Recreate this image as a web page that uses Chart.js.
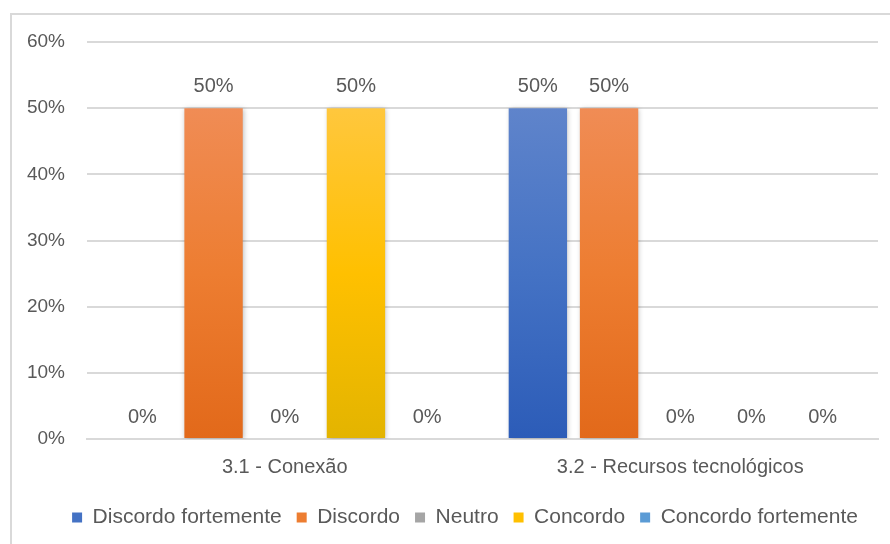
<!DOCTYPE html>
<html>
<head>
<meta charset="utf-8">
<script src="https://cdn.jsdelivr.net/npm/chart.js@4.4.1/dist/chart.umd.min.js"></script>
<style>
  body { margin: 0; background: #fff; }
  #frame { position: absolute; left: 10px; top: 13px; width: 900px; height: 560px; border: 2px solid #d9d9d9; }
  #chart { position: absolute; left: 0; top: 0; }
</style>
</head>
<body>
<div id="frame"></div>
<canvas id="chart" width="890" height="544"></canvas>
<script>
const categories = ['3.1 - Conexão', '3.2 - Recursos tecnológicos'];
const seriesNames = ['Discordo fortemente', 'Discordo', 'Neutro', 'Concordo', 'Concordo fortemente'];
const discordoFortemente = [0, 50];
const discordo = [50, 50];
const neutro = [0, 0];
const concordo = [50, 0];
const concordoFortemente = [0, 0];
const yTicks = [0, 10, 20, 30, 40, 50, 60];

// solid colour, plus light top / dark bottom for the bar gradient
const palette = [
    { base: '#4472C4', top: '#5F84CB', bottom: '#2C5CB8' },
    { base: '#ED7D31', top: '#F08C55', bottom: '#E2691A' },
    { base: '#A5A5A5', top: '#B5B5B5', bottom: '#959595' },
    { base: '#FFC000', top: '#FFC73D', bottom: '#E3B400' },
    { base: '#5B9BD5', top: '#74ABDC', bottom: '#4A8AC8' }
];
const seriesValues = [discordoFortemente, discordo, neutro, concordo, concordoFortemente];

const textColor = '#595959';
const fontFamily = '"Liberation Sans", Arial, sans-serif';

function barGradient(i) {
    return function (context) {
        const chart = context.chart;
        const area = chart.chartArea;
        if (!area) return palette[i].base;
        const top = chart.scales.y.getPixelForValue(context.raw || 0);
        const g = chart.ctx.createLinearGradient(0, top, 0, area.bottom);
        g.addColorStop(0, palette[i].top);
        g.addColorStop(0.5, palette[i].base);
        g.addColorStop(1, palette[i].bottom);
        return g;
    };
}

// soft shadow under the bars
const barShadow = {
    id: 'barShadow',
    beforeDatasetsDraw(chart) {
        const ctx = chart.ctx;
        ctx.save();
        ctx.shadowColor = 'rgba(0,0,0,0.25)';
        ctx.shadowBlur = 5;
        ctx.shadowOffsetX = 1;
        ctx.shadowOffsetY = 1;
    },
    afterDatasetsDraw(chart) {
        chart.ctx.restore();
    }
};

// value labels above each bar
const valueLabels = {
    id: 'valueLabels',
    afterDatasetsDraw(chart) {
        const ctx = chart.ctx;
        ctx.save();
        ctx.font = '20px ' + fontFamily;
        ctx.fillStyle = textColor;
        ctx.textAlign = 'center';
        ctx.textBaseline = 'bottom';
        chart.data.datasets.forEach((ds, i) => {
            chart.getDatasetMeta(i).data.forEach((bar, j) => {
                ctx.fillText(ds.data[j] + '%', bar.x, bar.y - 12);
            });
        });
        ctx.restore();
    }
};

// nudge the legend row a little to the right
const legendShift = {
    id: 'legendShift',
    afterLayout(chart) {
        if (chart.legend) {
            chart.legend.left += 26;
            chart.legend.right += 26;
        }
    }
};

new Chart(document.getElementById('chart'), {
    type: 'bar',
    data: {
        labels: categories,
        datasets: seriesNames.map((name, i) => ({
            label: name,
            data: seriesValues[i],
            backgroundColor: barGradient(i),
            borderWidth: 0,
            categoryPercentage: 0.9,
            barPercentage: 0.82
        }))
    },
    options: {
        responsive: false,
        animation: false,
        layout: { padding: { top: 42, right: 12, left: 0, bottom: 6 } },
        plugins: {
            tooltip: { enabled: false },
            legend: {
                position: 'bottom',
                labels: {
                    color: textColor,
                    font: { family: fontFamily, size: 21 },
                    boxWidth: 10,
                    boxHeight: 10,
                    padding: 15,
                    generateLabels(chart) {
                        return chart.data.datasets.map((ds, i) => ({
                            text: ds.label,
                            fillStyle: palette[i].base,
                            strokeStyle: palette[i].base,
                            lineWidth: 0,
                            fontColor: textColor,
                            datasetIndex: i
                        }));
                    }
                }
            }
        },
        scales: {
            x: {
                grid: { display: false },
                border: { display: true, color: '#d9d9d9', width: 2 },
                ticks: { color: textColor, font: { family: fontFamily, size: 20 }, padding: 8 },
                afterFit(scale) { scale.height = 53; }
            },
            y: {
                min: 0,
                max: 60,
                afterBuildTicks(scale) { scale.ticks = yTicks.map(v => ({ value: v })); },
                grid: { color: '#d9d9d9', lineWidth: 2, drawTicks: false },
                border: { display: false },
                ticks: {
                    color: textColor,
                    font: { family: fontFamily, size: 19 },
                    padding: 22,
                    callback: v => v + '%'
                },
                afterFit(scale) { scale.width = 87; }
            }
        }
    },
    plugins: [barShadow, valueLabels, legendShift]
});
</script>
</body>
</html>
